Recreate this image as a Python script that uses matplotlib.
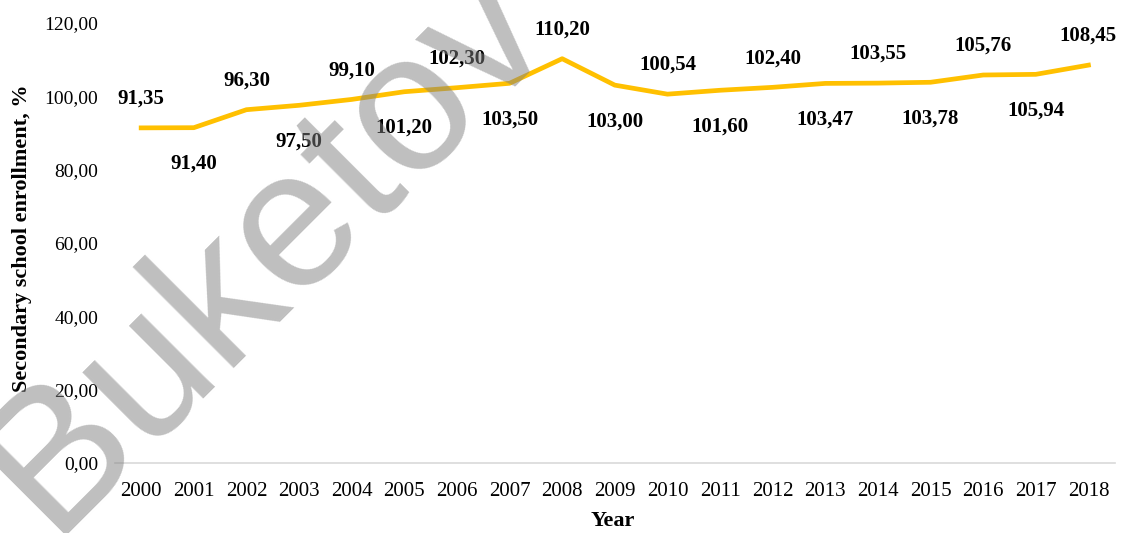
import matplotlib
matplotlib.use("Agg")
import matplotlib.pyplot as plt

years = ["2000", "2001", "2002", "2003", "2004", "2005", "2006", "2007", "2008", "2009",
         "2010", "2011", "2012", "2013", "2014", "2015", "2016", "2017", "2018"]
enrollment = [91.35, 91.40, 96.30, 97.50, 99.10, 101.20, 102.30, 103.50, 110.20, 103.00,
              100.54, 101.60, 102.40, 103.47, 103.55, 103.78, 105.76, 105.94, 108.45]
yticks = [0, 20, 40, 60, 80, 100, 120]

plt.rcParams["font.family"] = ["Liberation Serif", "DejaVu Serif"]

fig = plt.figure(figsize=(11.26, 5.33), dpi=100)
ax = fig.add_axes([0.102, 0.1313, 0.888, 0.826])

x = list(range(len(years)))
ax.plot(x, enrollment, color="#FFC000", linewidth=3.4, zorder=3)

# labels alternate above / below the line, like the excel chart
for i, v in enumerate(enrollment):
    lbl = ("%.2f" % v).replace(".", ",")
    dy = 21 if i % 2 == 0 else -26
    ax.annotate(lbl, (i, v), xytext=(0, dy), textcoords="offset points",
                ha="center", va="center", fontsize=15, fontweight="bold", zorder=4)

ax.set_xlim(-0.5, len(years) - 0.5)
ax.set_ylim(0, 120)
ax.set_xticks(x)
ax.set_xticklabels(years, fontsize=15)
ax.set_yticks(yticks)
ax.set_yticklabels([("%.2f" % t).replace(".", ",") for t in yticks], fontsize=14)
ax.tick_params(length=0)
ax.tick_params(axis="x", pad=14)
ax.tick_params(axis="y", pad=12)

for s in ["top", "right", "left"]:
    ax.spines[s].set_visible(False)
ax.spines["bottom"].set_color("#d9d9d9")
ax.spines["bottom"].set_linewidth(1.2)

fig.text(22 / 1126, 1 - 238 / 533, "Secondary school enrollment, %", rotation=90,
         ha="center", va="center", fontsize=16, fontweight="bold")
fig.text(613 / 1126, 1 - 521 / 533, "Year", ha="center", va="center",
         fontsize=16, fontweight="bold")

# watermark on top, half transparent
fig.text(266 / 1126, 1 - 248 / 533, "Buketov", rotation=45, ha="center", va="center",
         fontsize=142, family="Liberation Sans", color="gray", alpha=0.5,
         rotation_mode="anchor", zorder=10)

fig.savefig("out.png", dpi=100)
